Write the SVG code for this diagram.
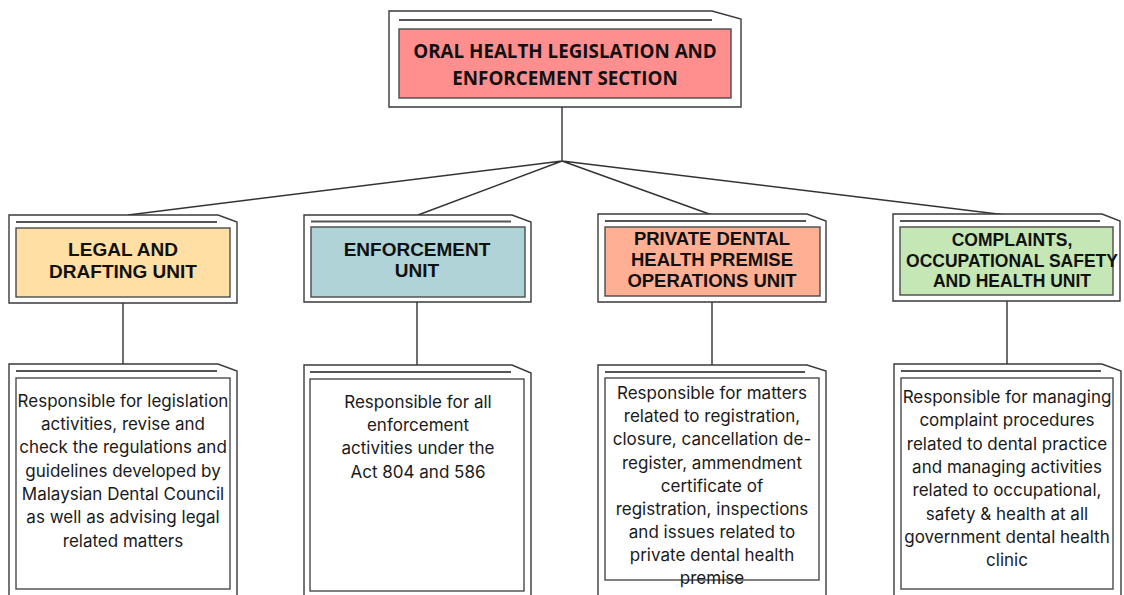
<svg xmlns="http://www.w3.org/2000/svg" width="1124" height="595" viewBox="0 0 1124 595">
<style>
.outer{fill:#fff;stroke:#3a3a3a;stroke-width:1.4}
.rule{stroke:#555;stroke-width:2.2;fill:none}
.inner{stroke:#4a4a4a;stroke-width:1.4}
.conn{stroke:#333;stroke-width:1.4;fill:none}
.title{font-family:"Open Sans",sans-serif;font-weight:700;font-size:18.8px;fill:#111;text-anchor:middle}
.unit{font-family:"Liberation Sans",Arial,sans-serif;font-weight:700;font-size:19px;fill:#111;text-anchor:middle}
.desc{font-family:Inter,sans-serif;font-size:17px;fill:#1a1a1a;text-anchor:middle}
</style>
<rect width="1124" height="595" fill="#fff"/>
<g id="connectors">
<path class="conn" d="M562 107V161M562 161L128 215M562 161L418 215M562 161L712 215M562 161L1006 215"/>
<path class="conn" d="M123 303V364M417 302V365M712 302V365M1007 301V364"/>
</g>
<g id="section">
<path class="outer" d="M389 11H712L741 19V107H389Z"/>
<path class="rule" d="M399 20H712"/>
<rect class="inner" x="399" y="29" width="332" height="69" fill="#ff8e8e"/>
<text class="title" x="565" y="58">ORAL HEALTH LEGISLATION AND</text>
<text class="title" x="565" y="85">ENFORCEMENT SECTION</text>
</g>
<g id="legal">
<path class="outer" d="M9 215H218L237 222V303H9Z"/>
<path class="rule" d="M16 222H217"/>
<rect class="inner" x="16" y="228" width="214" height="69" fill="#ffdfa3"/>
<text class="unit" x="123" y="256">LEGAL AND</text>
<text class="unit" x="123" y="278">DRAFTING UNIT</text>
</g>
<g id="enforcement">
<path class="outer" d="M304 215H512L531 222V302H304Z"/>
<path class="rule" d="M311 221.5H511"/>
<rect class="inner" x="311" y="227" width="214" height="70" fill="#afd3d7"/>
<text class="unit" x="417" y="256">ENFORCEMENT</text>
<text class="unit" x="417" y="277">UNIT</text>
</g>
<g id="private">
<path class="outer" d="M598 214H807L826 221V302H598Z"/>
<path class="rule" d="M605 221H806"/>
<rect class="inner" x="605" y="227" width="215" height="69" fill="#ffb094"/>
<text class="unit" x="712" y="245" style="font-size:18.5px">PRIVATE DENTAL</text>
<text class="unit" x="712" y="266" style="font-size:18.5px">HEALTH PREMISE</text>
<text class="unit" x="712" y="287" style="font-size:18.5px">OPERATIONS UNIT</text>
</g>
<g id="complaints">
<path class="outer" d="M893 214H1102L1120 221V301H893Z"/>
<path class="rule" d="M900 221H1100"/>
<rect class="inner" x="900" y="227" width="213" height="68" fill="#c5e6b5"/>
<text class="unit" x="1012" y="246" style="font-size:17.5px">COMPLAINTS,</text>
<text class="unit" x="1012" y="267" style="font-size:17.5px">OCCUPATIONAL SAFETY</text>
<text class="unit" x="1012" y="287" style="font-size:17.5px">AND HEALTH UNIT</text>
</g>
<g id="legal-desc">
<path class="outer" d="M9 364H218L237 371V600H9Z"/>
<path class="rule" d="M16 371H217"/>
<rect class="inner" x="16" y="378" width="214" height="211" fill="#fff"/>
<text class="desc" x="123" y="407">Responsible for legislation</text>
<text class="desc" x="123" y="430">activities, revise and</text>
<text class="desc" x="123" y="453">check the regulations and</text>
<text class="desc" x="123" y="477">guidelines developed by</text>
<text class="desc" x="123" y="500">Malaysian Dental Council</text>
<text class="desc" x="123" y="523">as well as advising legal</text>
<text class="desc" x="123" y="547">related matters</text>
</g>
<g id="enforcement-desc">
<path class="outer" d="M304 365H512L531 373V600H304Z"/>
<path class="rule" d="M310 372H511"/>
<rect class="inner" x="310" y="379" width="214" height="212" fill="#fff"/>
<text class="desc" x="418" y="408">Responsible for all</text>
<text class="desc" x="418" y="431">enforcement</text>
<text class="desc" x="418" y="454">activities under the</text>
<text class="desc" x="418" y="478">Act 804 and 586</text>
</g>
<g id="private-desc">
<path class="outer" d="M598 365H807L826 371V600H598Z"/>
<path class="rule" d="M605 372H805"/>
<rect class="inner" x="605" y="378" width="214" height="202" fill="#fff"/>
<text class="desc" x="712" y="399">Responsible for matters</text>
<text class="desc" x="712" y="422">related to registration,</text>
<text class="desc" x="712" y="445">closure, cancellation de-</text>
<text class="desc" x="712" y="469">register, ammendment</text>
<text class="desc" x="712" y="492">certificate of</text>
<text class="desc" x="712" y="515">registration, inspections</text>
<text class="desc" x="712" y="538">and issues related to</text>
<text class="desc" x="712" y="561">private dental health</text>
<text class="desc" x="712" y="584">premise</text>
</g>
<g id="complaints-desc">
<path class="outer" d="M894 364H1102L1121 371V600H894Z"/>
<path class="rule" d="M901 371H1101"/>
<rect class="inner" x="901" y="378" width="212" height="211" fill="#fff"/>
<text class="desc" x="1007" y="403">Responsible for managing</text>
<text class="desc" x="1007" y="426">complaint procedures</text>
<text class="desc" x="1007" y="450">related to dental practice</text>
<text class="desc" x="1007" y="473">and managing activities</text>
<text class="desc" x="1007" y="496">related to occupational,</text>
<text class="desc" x="1007" y="520">safety &amp; health at all</text>
<text class="desc" x="1007" y="543">government dental health</text>
<text class="desc" x="1007" y="566">clinic</text>
</g>
</svg>
